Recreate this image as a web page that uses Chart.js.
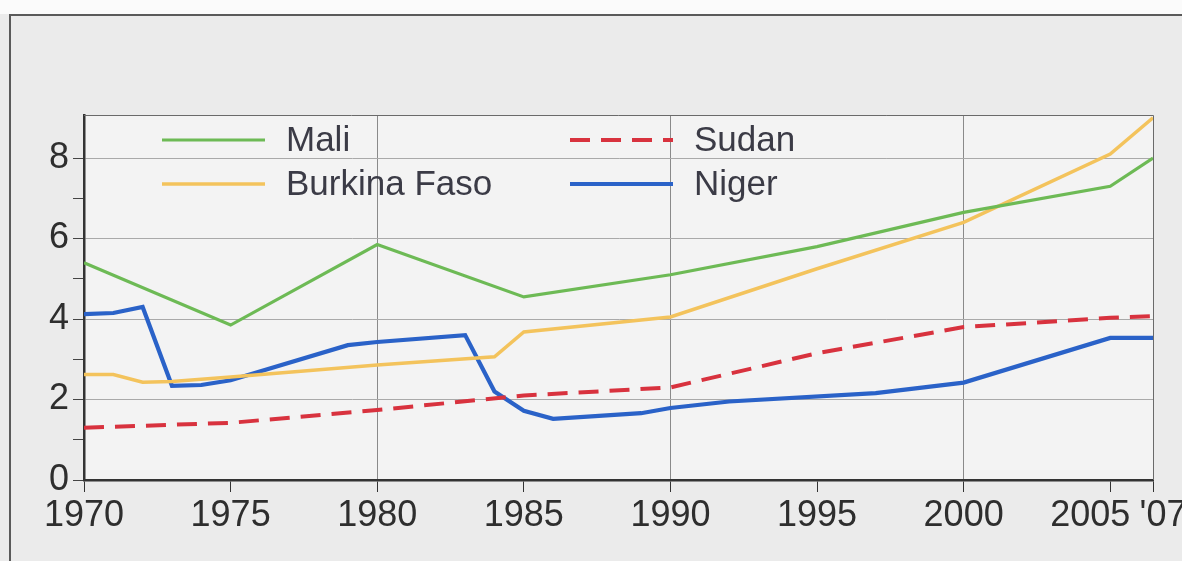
<!DOCTYPE html>
<html>
<head>
<meta charset="utf-8">
<script src="https://cdn.jsdelivr.net/npm/chart.js@4.4.1/dist/chart.umd.min.js"></script>
<style>
  html, body { margin: 0; padding: 0; background: #ffffff; }
  #wrap { width: 1182px; height: 561px; }
</style>
</head>
<body>
<div id="wrap"><canvas id="chart" width="1182" height="561"></canvas></div>
<script>
// values
var maliYears = [1970, 1975, 1980, 1985, 1990, 1995, 2000, 2005, 2007];
var maliValues = [5.4, 3.85, 5.85, 4.55, 5.1, 5.8, 6.65, 7.3, 8.0];

var burkinaYears = [1970, 1971, 1972, 1973, 1975, 1980, 1984, 1985, 1990, 1995, 2000, 2005, 2007];
var burkinaValues = [2.62, 2.62, 2.43, 2.45, 2.56, 2.86, 3.06, 3.68, 4.05, 5.25, 6.4, 8.1, 9.0];

var sudanYears = [1970, 1975, 1980, 1985, 1990, 1995, 2000, 2005, 2007];
var sudanValues = [1.3, 1.42, 1.74, 2.1, 2.3, 3.15, 3.8, 4.03, 4.07];

var nigerYears = [1970, 1971, 1972, 1973, 1974, 1975, 1979, 1980, 1983, 1984, 1985, 1986, 1989, 1990, 1992, 1997, 2000, 2005, 2007];
var nigerValues = [4.12, 4.15, 4.3, 2.34, 2.36, 2.48, 3.35, 3.43, 3.6, 2.2, 1.72, 1.52, 1.66, 1.79, 1.95, 2.16, 2.42, 3.53, 3.53];

var xTickYears = [1970, 1975, 1980, 1985, 1990, 1995, 2000, 2005, 2007];
var xGridYears = [1980, 1990, 2000];
var yTickValues = [0, 1, 2, 3, 4, 5, 6, 7, 8];

function pairs(xs, ys) {
  return xs.map(function (x, i) { return { x: x, y: ys[i] }; });
}

var fontName = "'Liberation Sans', Arial, sans-serif";

// the printed axis squeezes 2005-'07 into a short last stretch
var breakYear = 2005;
var breakShare = 0.96;

class PrintedScale extends Chart.LinearScale {
  getPixelForValue(value) {
    var d;
    if (value <= breakYear) {
      d = (value - this.min) / (breakYear - this.min) * breakShare;
    } else {
      d = breakShare + (value - breakYear) / (this.max - breakYear) * (1 - breakShare);
    }
    return this.getPixelForDecimal(d);
  }
  getValueForPixel(pixel) {
    var d = this.getDecimalForPixel(pixel);
    if (d <= breakShare) return this.min + d / breakShare * (breakYear - this.min);
    return breakYear + (d - breakShare) / (1 - breakShare) * (this.max - breakYear);
  }
}
PrintedScale.id = 'printed';
PrintedScale.defaults = Chart.LinearScale.defaults;
Chart.register(PrintedScale);

// paper background, outer frame and plot box
var paperPlugin = {
  id: 'paper',
  beforeDraw: function (chart) {
    var c = chart.ctx, a = chart.chartArea;
    c.save();
    c.fillStyle = '#fbfbfb';
    c.fillRect(0, 0, chart.width, 14);
    c.fillStyle = '#ebebeb';
    c.fillRect(0, 14, chart.width, chart.height - 14);
    c.fillStyle = '#f3f3f3';
    c.fillRect(a.left, a.top, a.right - a.left, a.bottom - a.top);
    c.strokeStyle = '#5a5a5a';
    c.lineWidth = 2;
    c.beginPath();
    c.moveTo(10, chart.height);
    c.lineTo(10, 15);
    c.lineTo(chart.width, 15);
    c.stroke();
    c.restore();
  },
  afterDraw: function (chart) {
    var c = chart.ctx, a = chart.chartArea;
    c.save();
    c.strokeStyle = '#6a6a6a';
    c.lineWidth = 1;
    c.beginPath();
    c.moveTo(a.left, a.top + 0.5);
    c.lineTo(a.right + 0.5, a.top + 0.5);
    c.lineTo(a.right + 0.5, a.bottom);
    c.stroke();
    c.restore();
  }
};

// two column legend inside the plot
var legendPlugin = {
  id: 'legendGrid',
  afterDraw: function (chart) {
    var c = chart.ctx;
    var spots = [
      { x: 162, y: 140 }, // Mali
      { x: 162, y: 184 }, // Burkina Faso
      { x: 570, y: 140 }, // Sudan
      { x: 570, y: 184 }  // Niger
    ];
    c.save();
    chart.data.datasets.forEach(function (ds, i) {
      var p = spots[i];
      c.strokeStyle = ds.borderColor;
      c.lineWidth = ds.borderWidth;
      c.setLineDash(ds.borderDash || []);
      c.beginPath();
      c.moveTo(p.x, p.y);
      c.lineTo(p.x + 103, p.y);
      c.stroke();
      c.setLineDash([]);
      c.fillStyle = '#3b3b46';
      c.font = '35px ' + fontName;
      c.textBaseline = 'middle';
      c.fillText(ds.label, p.x + 124, p.y + 1);
    });
    c.restore();
  }
};

new Chart(document.getElementById('chart').getContext('2d'), {
  type: 'line',
  data: {
    datasets: [
      { label: 'Mali', data: pairs(maliYears, maliValues), borderColor: '#6dba55', borderWidth: 3.2 },
      { label: 'Burkina Faso', data: pairs(burkinaYears, burkinaValues), borderColor: '#f3c35c', borderWidth: 3.5 },
      { label: 'Sudan', data: pairs(sudanYears, sudanValues), borderColor: '#d8323e', borderWidth: 4, borderDash: [20, 11] },
      { label: 'Niger', data: pairs(nigerYears, nigerValues), borderColor: '#2a62c8', borderWidth: 4.2 }
    ]
  },
  options: {
    responsive: false,
    animation: false,
    events: [],
    elements: { point: { radius: 0 }, line: { tension: 0, borderCapStyle: 'butt' } },
    layout: { padding: { left: 0, top: 115, right: 29, bottom: 0 } },
    plugins: { legend: { display: false }, tooltip: { enabled: false } },
    scales: {
      x: {
        type: 'printed',
        min: 1970,
        max: 2007,
        afterBuildTicks: function (scale) {
          scale.ticks = xTickYears.map(function (v) { return { value: v }; });
        },
        afterFit: function (scale) {
          scale.height = 81;
          scale.paddingLeft = 0;
          scale.paddingRight = 0;
        },
        border: { color: '#333', width: 2.5 },
        grid: {
          color: function (ctx) {
            return ctx.tick && xGridYears.indexOf(ctx.tick.value) >= 0 ? '#8a8a8a' : 'rgba(0,0,0,0)';
          },
          lineWidth: 1,
          tickColor: '#333',
          tickLength: 12,
          drawTicks: true
        },
        ticks: {
          autoSkip: false,
          maxRotation: 0,
          padding: 2,
          color: '#2e2e2e',
          font: { family: fontName, size: 36 },
          // nudge the last two labels apart like the print does
          callback: function (v) {
            if (v === 2007) return "  '07";
            if (v === 2005) return '2005    ';
            return String(v);
          }
        }
      },
      y: {
        min: 0,
        max: 9.07,
        afterBuildTicks: function (scale) {
          scale.ticks = yTickValues.map(function (v) { return { value: v }; });
        },
        afterFit: function (scale) { scale.width = 84; },
        border: { color: '#333', width: 2.5 },
        grid: {
          color: function (ctx) {
            var v = ctx.tick ? ctx.tick.value : 0;
            return v > 0 && v % 2 === 0 ? '#a9a9a9' : 'rgba(0,0,0,0)';
          },
          lineWidth: 1,
          tickColor: '#444',
          tickLength: 11,
          drawTicks: true
        },
        ticks: {
          autoSkip: false,
          padding: 4,
          color: '#2e2e2e',
          font: { family: fontName, size: 36 },
          callback: function (v) { return v % 2 === 0 ? String(v) : ''; }
        }
      }
    }
  },
  plugins: [paperPlugin, legendPlugin]
});
</script>
</body>
</html>
